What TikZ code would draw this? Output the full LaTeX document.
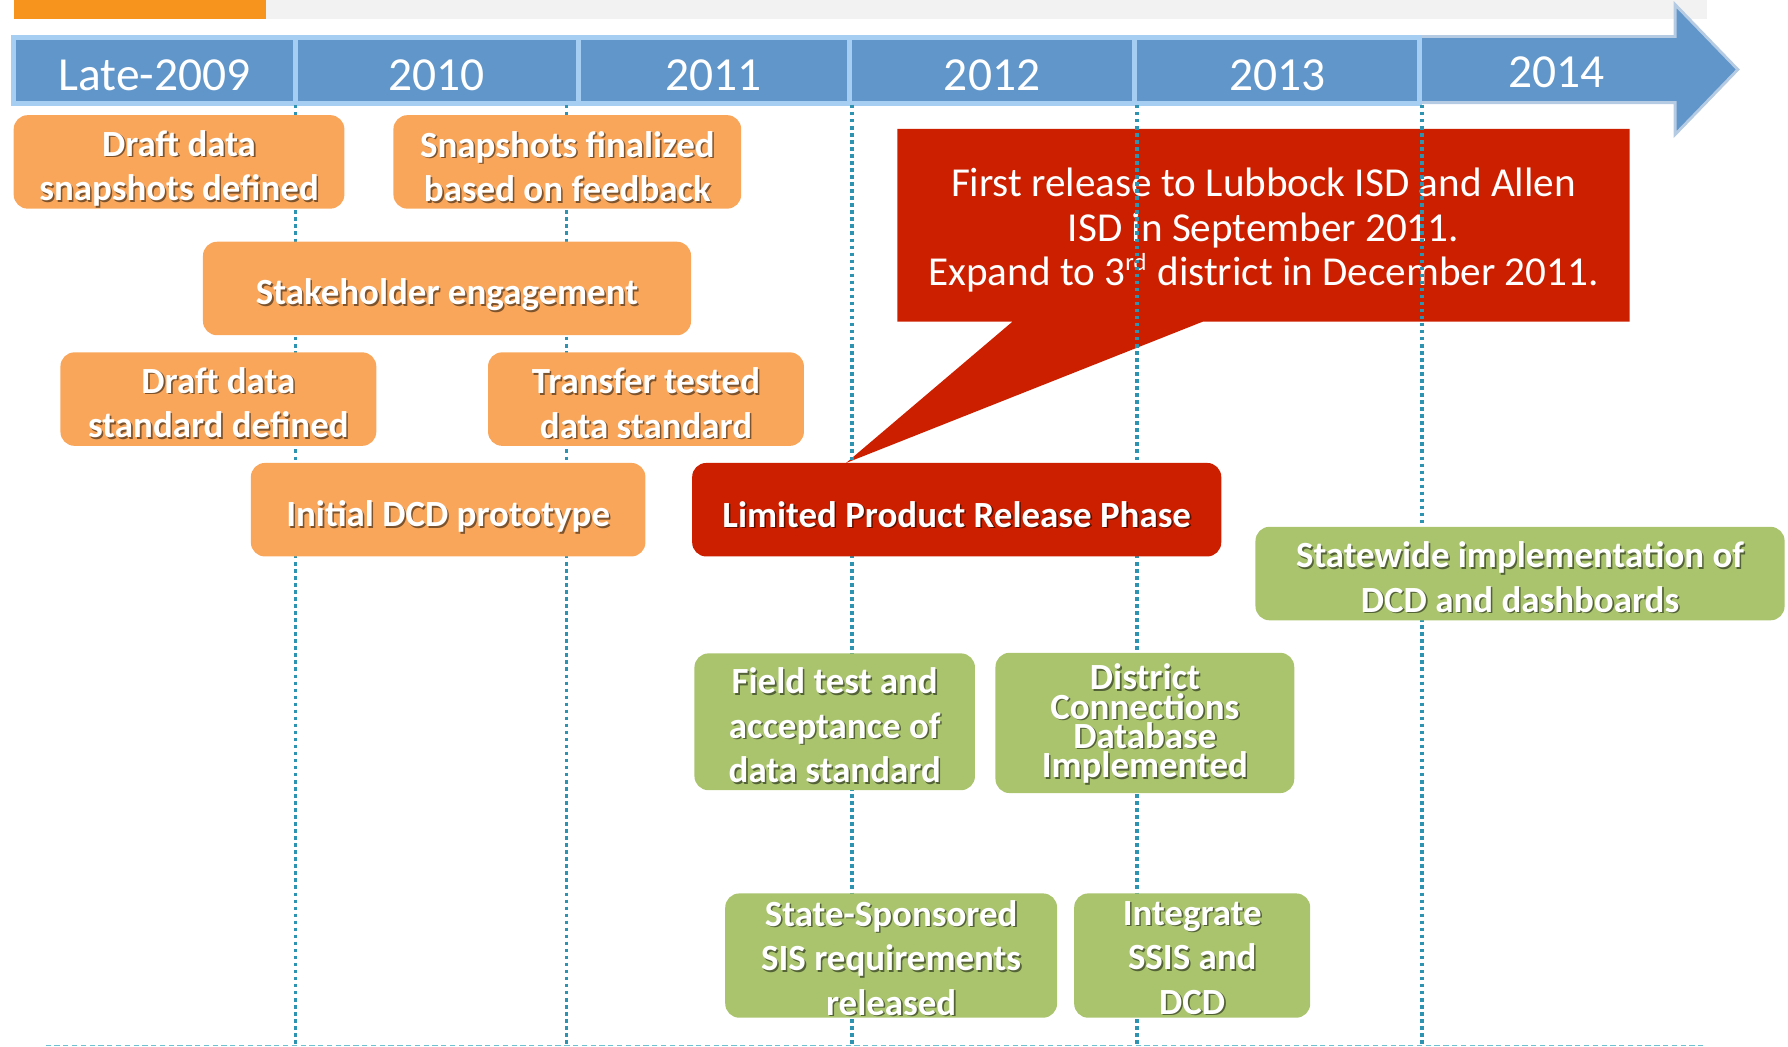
\documentclass[tikz,border=0pt]{standalone}
\usepackage{fontspec}
\setmainfont{Carlito}
\def\pxu{0.011403cm}
\definecolor{orng}{HTML}{F9A65A}
\definecolor{topor}{HTML}{F7941D}
\definecolor{topgray}{HTML}{F2F2F2}
\definecolor{calred}{HTML}{CC1F00}
\definecolor{grn}{HTML}{A9C46D}
\definecolor{barblue}{HTML}{6196CA}
\definecolor{glowblue}{HTML}{A6CEF2}
\definecolor{arrowedge}{HTML}{B4CBE3}
\definecolor{tealline}{HTML}{2D93B0}
\definecolor{botline}{HTML}{6EC1D0}
\def\shc{black}
\newcommand\stk[1]{\vbox{\lineskiplimit=-\maxdimen\halign{\hfil##\hfil\cr#1\crcr}}}
\newcommand\bt[2][1.1pt]{\raisebox{-#1}[\height][\depth]{\rlap{\kern0.45pt\raisebox{-0.45pt}[0pt][0pt]{\color{\shc}\stk{#2}}}\stk{#2}}}
\tikzset{
  tlbox/.style={rounded corners=4pt, inner sep=0pt, text=white,
    font=\bfseries\fontsize{10.5}{12.65}\selectfont},
  obox/.style={tlbox, fill=orng, execute at begin node={\def\shc{orng!50!black}}},
  rbox/.style={tlbox, fill=calred, execute at begin node={\def\shc{calred!45!black}}},
  gbox/.style={tlbox, fill=grn, execute at begin node={\def\shc{grn!50!black}}},
  seg/.style={fill=barblue, draw=glowblue, line width=1.5pt, inner sep=0pt,
    minimum height=58*\pxu, text=white, font=\fontsize{13.5}{15}\selectfont,
    text height=11.1pt, text depth=0pt},
  vline/.style={draw=tealline, line width=1pt, dash pattern=on 1pt off 1pt},
  botrule/.style={draw=botline, line width=0.4pt, dash pattern=on 1.5pt off 1pt},
}
\begin{document}
\begin{tikzpicture}[x=\pxu, y=-\pxu]
\useasboundingbox (0,0) rectangle (1568,918);
% top bars
\fill[topor] (12,0) rectangle (233,17);
\fill[topgray] (233,0) rectangle (1497,17);
% arrow
\filldraw[fill=barblue, draw=arrowedge, line width=0.8pt]
  (1245,32) -- (1469,32) -- (1469,4) -- (1524,61) -- (1469,118) -- (1469,90) -- (1245,90) -- cycle;
\node[text=white, font=\fontsize{13.5}{15}\selectfont, text height=9.5pt, text depth=0pt] (y5) at (1365,62) {2014};
% segments
\node[seg, minimum width=247*\pxu] (y0) at (135.5,62) {Late-2009};
\node[seg, minimum width=248*\pxu] (y1) at (383,62) {2010};
\node[seg, minimum width=238*\pxu] (y2) at (626,62) {2011};
\node[seg, minimum width=250*\pxu] (y3) at (870,62) {2012};
\node[seg, minimum width=250*\pxu] (y4) at (1120,62) {2013};
% callout
\fill[calred] (787,113) -- (1429,113) -- (1429,282) -- (1055,282) -- (742,406) -- (888,282) -- (787,282) -- cycle;
\node[text=white, align=center, font=\fontsize{11.7}{12.65}\selectfont] (note) at (1108,202)
  {First release to Lubbock ISD and Allen\\ISD in September 2011.\\Expand to 3\textsuperscript{\scriptsize rd} district in December 2011.};
% dotted guide lines
\foreach \i/\xx in {1/259,2/497,3/747,4/997,5/1247}{
  \coordinate (t\i) at (\xx,92);
  \coordinate (b\i) at (\xx,916);
  \draw[vline] (t\i) -- (b\i);
}
\coordinate (bl) at (40,917);
\coordinate (br) at (1495,917);
\draw[botrule] (bl) -- (br);
% orange boxes
\node[obox, minimum width=290*\pxu, minimum height=82*\pxu] (snap) at (157,142) {\bt[1.8pt]{Draft data\cr snapshots defined}};
\node[obox, minimum width=305*\pxu, minimum height=82*\pxu] (final) at (497.5,142) {\bt[1.3pt]{Snapshots finalized\cr based on feedback}};
\node[obox, minimum width=428*\pxu, minimum height=82*\pxu] (stake) at (392,253) {\bt[1.9pt]{Stakeholder engagement}};
\node[obox, minimum width=277*\pxu, minimum height=82*\pxu] (dstd) at (191.5,350) {\bt[1pt]{Draft data\cr standard defined}};
\node[obox, minimum width=277*\pxu, minimum height=82*\pxu] (trans) at (566.5,350) {\bt[1.2pt]{Transfer tested\cr data standard}};
\node[obox, minimum width=346*\pxu, minimum height=82*\pxu] (proto) at (393,447) {\bt[1.9pt]{Initial DCD prototype}};
% red box
\node[rbox, minimum width=464*\pxu, minimum height=82*\pxu] (lprp) at (839,447) {\bt[1.3pt]{Limited Product Release Phase}};
% green boxes
\node[gbox, minimum width=464*\pxu, minimum height=82*\pxu] (state) at (1333,503) {\bt[1pt]{Statewide implementation of\cr DCD and dashboards}};
\node[gbox, minimum width=246*\pxu, minimum height=120*\pxu] (field) at (732,633) {\bt[1pt]{Field test and\cr acceptance of\cr data standard}};
\node[gbox, minimum width=262*\pxu, minimum height=123*\pxu, font=\bfseries\fontsize{10.5}{8.3}\selectfont] (dcdb) at (1004,634) {\bt[0.2pt]{District\cr Connections\cr Database\cr Implemented}};
\node[gbox, minimum width=291*\pxu, minimum height=109*\pxu] (ssis) at (781.5,838) {\bt[0.7pt]{State-Sponsored\cr SIS requirements\cr released}};
\node[gbox, minimum width=207*\pxu, minimum height=109*\pxu] (integ) at (1045.5,838) {\bt[0.7pt]{Integrate\cr SSIS and\cr DCD}};
\end{tikzpicture}
\end{document}
